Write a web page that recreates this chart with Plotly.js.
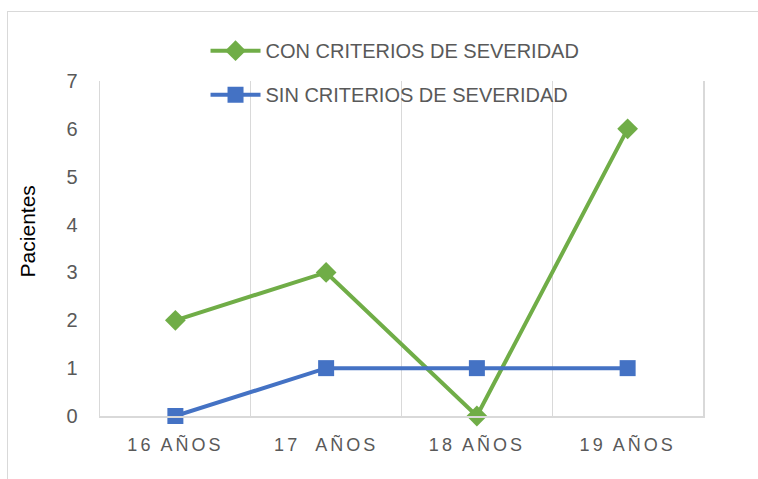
<!DOCTYPE html>
<html>
<head>
<meta charset="utf-8">
<script src="https://cdn.plot.ly/plotly-3.0.1.min.js"></script>
<style>
  html, body { margin: 0; padding: 0; background: #fff; }
  #wrap { position: relative; width: 758px; height: 479px; }
  #frame { position: absolute; left: 7px; top: 11px; right: 0; bottom: 0;
           border-top: 1.5px solid #d9d9d9; border-left: 1.5px solid #d9d9d9; }
  #chart { position: absolute; left: 0; top: 0; width: 758px; height: 479px; }
  .xtick text { letter-spacing: 3px; }
</style>
</head>
<body>
<div id="wrap">
  <div id="frame"></div>
  <div id="chart"></div>
</div>
<script>
const categories = ["16 AÑOS", "17\u00a0 AÑOS", "18 AÑOS", "19 AÑOS"];
const conCriterios = [2, 3, 0, 6];
const sinCriterios = [0, 1, 1, 1];
const seriesNames = ["CON CRITERIOS DE SEVERIDAD", "SIN CRITERIOS DE SEVERIDAD"];
const yTicks = [0, 1, 2, 3, 4, 5, 6, 7];
const yTitle = "Pacientes";

const green = "#70AD47";
const blue = "#4472C4";
const textGray = "#595959";
const gridGray = "#d9d9d9";

const traces = [
  {
    x: categories, y: conCriterios, name: seriesNames[0], type: "scatter", mode: "lines+markers",
    line: { color: green, width: 4 },
    marker: { symbol: "diamond", size: 16, color: green },
    legendgroup: "a", cliponaxis: false
  },
  {
    x: categories, y: sinCriterios, name: seriesNames[1], type: "scatter", mode: "lines+markers",
    line: { color: blue, width: 4 },
    marker: { symbol: "square", size: 16, color: blue },
    legendgroup: "b", cliponaxis: false
  }
];

const layout = {
  width: 758, height: 479,
  margin: { l: 100, r: 55, t: 81, b: 63, autoexpand: false },
  paper_bgcolor: "rgba(0,0,0,0)",
  plot_bgcolor: "rgba(0,0,0,0)",
  showlegend: true,
  legend: {
    x: 0.175, y: 1.025, xanchor: "left", yanchor: "middle",
    orientation: "v",
    bgcolor: "rgba(0,0,0,0)",
    font: { family: "Liberation Sans, Arial, sans-serif", size: 20, color: textGray },
    traceorder: "grouped",
    tracegroupgap: 15,
    itemwidth: 50
  },
  xaxis: {
    type: "category",
    range: [-0.5, 3.5],
    tickson: "boundaries",
    showgrid: true, gridcolor: gridGray, gridwidth: 1,
    showline: true, linecolor: gridGray, linewidth: 2,
    ticks: "", ticklabelstandoff: 11,
    tickfont: { family: "Liberation Sans, Arial, sans-serif", size: 18, color: textGray },
    zeroline: false, fixedrange: true
  },
  yaxis: {
    range: [0, 7],
    tickvals: yTicks,
    showgrid: false,
    showline: true, linecolor: gridGray, linewidth: 1.5, mirror: true,
    ticks: "outside", ticklen: 17, tickcolor: "rgba(0,0,0,0)",
    tickfont: { family: "Liberation Sans, Arial, sans-serif", size: 20, color: textGray },
    zeroline: false, fixedrange: true
  },
  annotations: [
    {
      text: yTitle, xref: "paper", yref: "paper",
      x: -0.12, y: 0.55, xanchor: "center", yanchor: "middle",
      textangle: -90, showarrow: false,
      font: { family: "Liberation Sans, Arial, sans-serif", size: 21, color: "#000" }
    }
  ]
};

Plotly.newPlot("chart", traces, layout, { displayModeBar: false, staticPlot: true });
</script>
</body>
</html>
